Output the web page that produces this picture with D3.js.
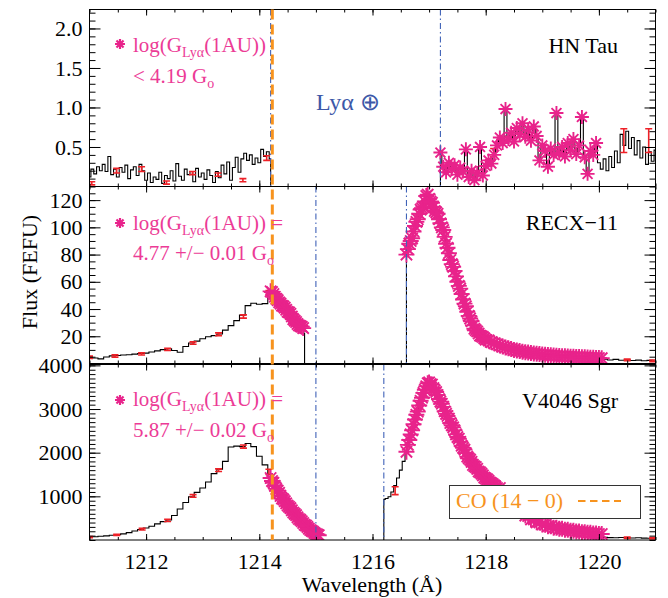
<!DOCTYPE html>
<html>
<head>
<meta charset="utf-8">
<title>Ly-alpha profiles</title>
<script src="https://cdn.jsdelivr.net/npm/d3@7"></script>
<style>
  body { margin: 0; background: #ffffff; }
  #chart text { font-family: "Liberation Serif", "Times New Roman", Times, serif; }
</style>
</head>
<body>
<svg id="chart"></svg>
<script>
// ---------------- data ----------------

// shared wavelength axis (Angstrom)
const xDomain = [1211, 1221];
const xLabelTicks = [1212, 1214, 1216, 1218, 1220];
const coWavelength = 1214.23;          // CO (14-0) band, orange dashed
const denseStep = 0.025;               // bins on the steep fitted parts
const fineStep = 0.05;                 // bins of the flatter fitted parts
const coarseStep = 0.1;                // bins used for the smooth wings

// ---- HN Tau (flux in FEFU) ----
const hnTauBlueStart = 1211.0;
const hnTauBlueFlux = [
  0.12,0.22,0.16,0.25,0.20,0.28,0.19,0.38,0.15,0.22,
  0.12,0.24,0.18,0.27,0.10,0.21,0.25,0.14,0.28,0.20,
  0.08,0.17,0.05,0.12,0.09,0.18,0.04,0.14,0.10,0.20,
  0.07,0.29,0.13,0.08,0.22,0.15,0.19,0.06,0.23,0.12,
  0.17,0.09,0.21,0.14,0.05,0.19,0.11,0.27,0.16,0.31,
  0.08,0.24,0.37,0.18,0.35,0.42,0.33,0.40,0.28,0.36,
  0.30,0.47,0.38,0.44,0.35];
const hnTauFitStart = 1217.2;
const hnTauFitFlux = [
  0.43,0.25,0.18,0.30,0.22,0.27,0.15,0.24,0.19,0.47,
  0.12,0.20,0.08,0.17,0.50,0.14,0.26,0.33,0.29,0.40,
  0.52,0.62,0.55,0.98,0.60,0.68,0.57,0.74,0.66,0.80,
  0.63,0.72,0.58,0.76,0.64,0.33,0.52,0.45,0.25,0.48,
  0.40,0.93,0.42,0.50,0.38,0.55,0.46,0.60,0.41,0.52,
  0.88,0.37,0.16,0.45,0.40,0.55];
const hnTauTailStart = 1220.0;
const hnTauTailFlux = [
  0.30,0.22,0.35,0.20,0.38,0.24,0.45,0.30,0.66,0.52,
  0.70,0.48,0.62,0.40,0.58,0.36,0.50,0.28,0.44,0.32,0.46];
// [wavelength, flux, error]
const hnTauErrors = [
  [1211.04,0.04,0.02],[1211.48,0.20,0.03],[1211.92,0.22,0.03],[1212.36,0.05,0.02],
  [1212.82,0.17,0.02],[1213.27,0.15,0.02],[1213.71,0.08,0.02],[1214.13,0.36,0.03],
  [1218.14,0.43,0.05],[1220.44,0.58,0.15],[1220.88,0.58,0.15]];
const hnTauGeocoronal = [1214.2, 1217.2];

// ---- RECX-11 ----
const recxWingStart = 1211.0;
const recxWingFlux = [
  4.6,4.0,3.4,4.8,5.6,5.9,6.2,6.4,6.9,7.3,
  7.6,8.4,9.3,10.2,10.8,9.5,8.3,12.5,15.1,16.4,
  18.2,19.6,20.5,21.7,24.5,27.8,31.5,35.5,42.5,44.2,
  43.5,44.0];
const recxBlueFitStart = 1214.2;
const recxBlueFitFlux = [
  53,52.5,51,49,47.5,46.5,45,44,42.5,42,41,39.5,
  38,37.5,36.5,34.5,32.5,31.5,30.5,29,28,27.5,27,26];
const recxBlueEdgeStart = 1214.8;
const recxBlueEdgeFlux = [22];
const recxPeakStart = 1216.6;
const recxPeakFlux = [
  80,84,88,90,92,97,101,104,106,110,
  113,114,115,119,123,124,121,119,118,115,
  112,111,110,106,103,100,98,93,88,85,
  81,76,73,71,68,64,60,57,55,51,
  47,44,42,38,35,33,31,28,25.5,24.5,
  23.5,22,20.5,20,19.5,18.5];
const recxWingRedStart = 1218.0;
const recxWingRedFlux = [
  17.5,17,15.7,14.8,14,13.2,12.4,11.8,11.2,10.6,
  10,9.5,9.1,8.7,8.3,8,7.7,7.4,7.1,6.9,
  6.6,6.4,6.2,6,5.8,5.7,5.5,5.4,5.3,5.1,
  5,4.9,4.8,4.7,4.6,4.5,4.4,4.3,4.2,4.1,
  4,3.9];
const recxTailStart = 1220.1;
const recxTailFlux = [3.2,2.6,3.0,2.4,2.8,2.2,2.5,2.0,2.3,1.8];
const recxErrors = [
  [1211.0,4.6,0.8],[1211.45,5.5,0.8],[1211.92,7,0.8],[1212.38,10.3,0.8],
  [1212.83,15,0.9],[1213.28,21.5,1],[1213.72,34.5,1.2],[1214.17,52,1.5],
  [1220.5,2.6,0.6],[1220.95,2.0,0.6]];
const recxGeocoronal = [1215.0, 1216.6];

// ---- V4046 Sgr ----
const v4046WingStart = 1211.0;
const v4046WingFlux = [
  65,75,85,95,108,120,140,170,205,240,
  275,315,370,420,460,560,710,860,990,1090,
  1190,1330,1520,1620,1800,2130,2150,2140,2210,2140,
  1920,1720];
const v4046BlueFitStart = 1214.2;
const v4046BlueFitFlux = [
  1420,1350,1310,1240,1170,1130,1080,1010,950,930,
  890,840,790,760,730,680,630,600,570,520,
  480,460,430,390,350,330,300,260,230,210,
  190,160,140,125,110];
const v4046RiseStart = 1216.2;
const v4046RiseFlux = [930,950,990,1100,1250,1420,1600,1800];
const v4046PeakStart = 1216.6;
const v4046PeakFlux = [
  2020,2180,2290,2420,2510,2650,2760,2870,2940,3080,
  3190,3260,3370,3440,3520,3590,3610,3570,3560,3480,
  3430,3390,3320,3230,3170,3120,3050,2950,2890,2840,
  2780,2680,2630,2580,2510,2420,2360,2320,2250,2160,
  2110,2070,1990,1910,1870,1840,1790,1720,1690,1670,
  1630,1570,1550,1520,1480,1430,1410,1390,1360,1320,
  1300,1280,1250,1220];
const v4046WingRedStart = 1218.2;
const v4046WingRedFlux = [
  1190,1190,1070,1060,930,920,800,770,
  670,650,560,550,470,470,405,400,355,350,
  315,315,282,282,255,255,234,234,214,214,
  195,196,180,180,164,164,150,150,136,136];
const v4046TailStart = 1220.1;
const v4046TailFlux = [60,55,50,58,48,45,52,42,40,38];
const v4046Errors = [
  [1211.0,65,15],[1211.48,118,15],[1211.93,250,20],[1212.38,450,25],
  [1212.83,1010,30],[1213.28,1600,30],[1213.72,2140,35],[1214.17,1560,60],
  [1216.4,1130,90],[1220.5,50,15],[1220.95,40,15]];
const v4046Geocoronal = [1215.0, 1216.2];

// y axes
const hnTauYTicks = [0.5, 1.0, 1.5, 2.0];
const recxYTicks = [20, 40, 60, 80, 100, 120];
const v4046YTicks = [1000, 2000, 3000, 4000];

// -------------------------------------------------------------------

const PINK = '#e8238b', PINK_TEXT = '#ec3b96', ORANGE = '#f7931e', BLUE = '#4063b8';

function toPoints(start, step, flux, star) {
  return flux.map((f, i) => ({w: start + i * step, f: f, star: star}));
}

// IDL style asterisk (psym=2)
function asteriskPath(r) {
  const k = r * 0.7071;
  return `M${-r},0L${r},0M0,${-r}L0,${r}M${-k},${-k}L${k},${k}M${-k},${k}L${k},${-k}`;
}

class SpectraFigure {

  constructor(_config, _panels) {
    this.config = {
      parentElement: _config.parentElement,
      width: 668,
      height: 598,
      left: 89.5,
      right: 655.5,
      panelTops: [9.5, 186.5, 364.5],
      panelHeights: [177, 177, 175.5]
    }
    this.panels = _panels;
    this.initVis();
  }

  initVis() {
    let vis = this;
    vis.svg = d3.select(vis.config.parentElement)
      .attr('width', vis.config.width)
      .attr('height', vis.config.height);

    vis.innerWidth = vis.config.right - vis.config.left;
    vis.xScale = d3.scaleLinear().domain(xDomain).range([0, vis.innerWidth]);

    vis.renderVis();
  }

  renderVis() {
    let vis = this;
    const x = vis.xScale;

    vis.panels.forEach((p, i) => {
      const top = vis.config.panelTops[i], h = vis.config.panelHeights[i];
      const g = vis.svg.append('g').attr('transform', `translate(${vis.config.left},${top})`);
      const y = d3.scaleLinear().domain([0, p.yMax]).range([h, 0]);
      p.yScale = y;

      //clip marks at the frame, like the IDL plot window
      g.append('clipPath').attr('id', 'clip' + i)
        .append('rect').attr('width', vis.innerWidth).attr('height', h);
      const plot = g.append('g').attr('clip-path', `url(#clip${i})`);

      const line = d3.line()
        .x(d => x(d.w))
        .y(d => y(d.f))
        .curve(d3.curveStep);

      let stars = [];
      p.runs.forEach(run => {
        let pts = [];
        run.segs.forEach(s => { pts = pts.concat(toPoints(s[0], s[1], s[2], s[3])); });
        const path = pts.slice();
        if (run.dropStart) path.unshift({w: pts[0].w, f: 0});
        if (run.dropEnd) path.push({w: pts[pts.length - 1].w, f: 0});
        plot.append('path')
          .datum(path)
          .attr('d', line)
          .attr('fill', 'none')
          .attr('stroke', '#000')
          .attr('stroke-width', 1.1);
        stars = stars.concat(pts.filter(d => d.star));
      });

      // error bars
      const eb = plot.selectAll('.err').data(p.errors).join('g').attr('class', 'err')
        .attr('stroke', '#ee2027').attr('stroke-width', 1.6);
      eb.append('line')
        .attr('x1', d => x(d[0])).attr('x2', d => x(d[0]))
        .attr('y1', d => y(d[1] - d[2])).attr('y2', d => y(d[1] + d[2]));
      eb.append('line')
        .attr('x1', d => x(d[0]) - 3.5).attr('x2', d => x(d[0]) + 3.5)
        .attr('y1', d => y(d[1] - d[2])).attr('y2', d => y(d[1] - d[2]));
      eb.append('line')
        .attr('x1', d => x(d[0]) - 3.5).attr('x2', d => x(d[0]) + 3.5)
        .attr('y1', d => y(d[1] + d[2])).attr('y2', d => y(d[1] + d[2]));

      // fitted points
      plot.selectAll('.star').data(stars).join('path')
        .attr('class', 'star')
        .attr('transform', d => `translate(${x(d.w)},${y(d.f)})`)
        .attr('d', asteriskPath(p.starSize))
        .attr('fill', 'none')
        .attr('stroke', PINK)
        .attr('stroke-width', 1.9);

      // geocoronal Ly-alpha edges
      g.selectAll('.geo').data(p.geo).join('line')
        .attr('class', 'geo')
        .attr('x1', d => x(d)).attr('x2', d => x(d))
        .attr('y1', 0).attr('y2', h)
        .attr('stroke', BLUE)
        .attr('stroke-width', 1.1)
        .attr('stroke-dasharray', '6,3,1.5,3');

      p.group = g;
      p.h = h;
    });

    // CO (14-0) line through all three panels
    const yTop = vis.config.panelTops[0];
    const yBot = vis.config.panelTops[2] + vis.config.panelHeights[2];
    vis.svg.append('line')
      .attr('x1', vis.config.left + x(coWavelength)).attr('x2', vis.config.left + x(coWavelength))
      .attr('y1', yTop).attr('y2', yBot)
      .attr('stroke', ORANGE)
      .attr('stroke-width', 3)
      .attr('stroke-dasharray', '10,5');

    // frames, axes and labels
    vis.panels.forEach((p, i) => {
      const g = p.group, h = p.h, y = p.yScale;
      const last = i === vis.panels.length - 1;
      const xMinor = d3.range(xDomain[0], xDomain[1] + 0.01, 0.5);
      const yMinor = d3.range(0, p.yMax, p.yMinorStep);

      const axes = [
        [d3.axisBottom(x).tickValues(xMinor).tickSize(-3).tickFormat(''), `translate(0,${h})`],
        [d3.axisBottom(x).tickValues(xLabelTicks).tickSize(-6).tickPadding(13)
          .tickFormat(last ? d3.format('d') : ''), `translate(0,${h})`],
        [d3.axisTop(x).tickValues(xMinor).tickSize(-3).tickFormat(''), 'translate(0,0)'],
        [d3.axisTop(x).tickValues(xLabelTicks).tickSize(-6).tickFormat(''), 'translate(0,0)'],
        [d3.axisLeft(y).tickValues(yMinor).tickSize(-6).tickFormat(''), 'translate(0,0)'],
        [d3.axisLeft(y).tickValues(p.yTicks).tickSize(-11).tickPadding(7).tickFormat(p.yFormat), 'translate(0,0)'],
        [d3.axisRight(y).tickValues(yMinor).tickSize(-6).tickFormat(''), `translate(${vis.innerWidth},0)`],
        [d3.axisRight(y).tickValues(p.yTicks).tickSize(-11).tickFormat(''), `translate(${vis.innerWidth},0)`]
      ];
      axes.forEach(a => {
        const ag = g.append('g').attr('transform', a[1]).call(a[0].tickSizeOuter(0));
        ag.select('.domain').remove();
        ag.attr('font-size', 22).attr('font-family', null);
        ag.selectAll('text').attr('fill', '#000');
        ag.selectAll('line').attr('stroke', '#000');
      });

      g.append('rect')
        .attr('width', vis.innerWidth).attr('height', h)
        .attr('fill', 'none').attr('stroke', '#000').attr('stroke-width', 1);

      // object name
      vis.svg.append('text')
        .attr('x', 618).attr('y', p.nameY)
        .attr('text-anchor', 'end')
        .attr('font-size', 22)
        .text(p.name);

      // G_Lya(1AU) annotation
      vis.svg.append('path')
        .attr('transform', `translate(120,${p.note.starY})`)
        .attr('d', asteriskPath(5))
        .attr('fill', 'none').attr('stroke', PINK).attr('stroke-width', 2.2);
      const t1 = vis.svg.append('text')
        .attr('x', 133).attr('y', p.note.y1)
        .attr('font-size', 21).attr('fill', PINK_TEXT)
        .text('log(G');
      t1.append('tspan').attr('font-size', 14).attr('dy', 5).text('Lyα');
      t1.append('tspan').attr('dy', -5).text('(1AU))' + p.note.eq);
      const t2 = vis.svg.append('text')
        .attr('x', 133).attr('y', p.note.y2)
        .attr('font-size', 21).attr('fill', PINK_TEXT)
        .text(p.note.value + ' G');
      t2.append('tspan').attr('font-size', 14).attr('dy', 5).text('o');
    });

    // geocoronal label
    vis.svg.append('text')
      .attr('x', 316).attr('y', 110)
      .attr('font-size', 24)
      .attr('fill', '#3d58a8')
      .text('Lyα ⊕');

    // legend for the CO line
    vis.svg.append('rect')
      .attr('x', 449.5).attr('y', 485.5).attr('width', 191).attr('height', 33)
      .attr('fill', '#fff').attr('stroke', '#333').attr('stroke-width', 1);
    vis.svg.append('text')
      .attr('x', 456).attr('y', 508)
      .attr('font-size', 22).attr('fill', ORANGE)
      .text('CO (14 − 0)');
    vis.svg.append('line')
      .attr('x1', 578).attr('x2', 621).attr('y1', 501).attr('y2', 501)
      .attr('stroke', ORANGE).attr('stroke-width', 1.8)
      .attr('stroke-dasharray', '7.5,4.5');

    // axis titles
    vis.svg.append('text')
      .attr('x', 372).attr('y', 592)
      .attr('text-anchor', 'middle')
      .attr('font-size', 22)
      .text('Wavelength (Å)');
    vis.svg.append('text')
      .attr('transform', 'translate(37,272) rotate(-90)')
      .attr('text-anchor', 'middle')
      .attr('font-size', 22)
      .text('Flux (FEFU)');
  }
}

const panels = [
  {
    name: 'HN Tau', nameY: 53, starSize: 7,
    yMax: 2.24, yTicks: hnTauYTicks, yMinorStep: 0.1, yFormat: d3.format('.1f'),
    runs: [
      {segs: [[hnTauBlueStart, fineStep, hnTauBlueFlux, false]], dropEnd: true},
      {segs: [[hnTauFitStart, fineStep, hnTauFitFlux, true],
              [hnTauTailStart, fineStep, hnTauTailFlux, false]], dropStart: true}
    ],
    errors: hnTauErrors, geo: hnTauGeocoronal,
    note: {starY: 44, y1: 52, y2: 83, eq: '', value: '< 4.19'}
  },
  {
    name: 'RECX−11', nameY: 230, starSize: 8,
    yMax: 130, yTicks: recxYTicks, yMinorStep: 5, yFormat: d3.format('d'),
    runs: [
      {segs: [[recxWingStart, coarseStep, recxWingFlux, false],
              [recxBlueFitStart, denseStep, recxBlueFitFlux, true],
              [recxBlueEdgeStart, fineStep, recxBlueEdgeFlux, false]], dropEnd: true},
      {segs: [[recxPeakStart, denseStep, recxPeakFlux, true],
              [recxWingRedStart, fineStep, recxWingRedFlux, true],
              [recxTailStart, coarseStep, recxTailFlux, false]], dropStart: true}
    ],
    errors: recxErrors, geo: recxGeocoronal,
    note: {starY: 223, y1: 230, y2: 260, eq: ' =', value: '4.77 +/− 0.01'}
  },
  {
    name: 'V4046 Sgr', nameY: 408, starSize: 8,
    yMax: 4020, yTicks: v4046YTicks, yMinorStep: 100, yFormat: d3.format('d'),
    runs: [
      {segs: [[v4046WingStart, coarseStep, v4046WingFlux, false],
              [v4046BlueFitStart, denseStep, v4046BlueFitFlux, true]], dropEnd: true},
      {segs: [[v4046RiseStart, fineStep, v4046RiseFlux, false],
              [v4046PeakStart, denseStep, v4046PeakFlux, true],
              [v4046WingRedStart, fineStep, v4046WingRedFlux, true],
              [v4046TailStart, coarseStep, v4046TailFlux, false]], dropStart: true}
    ],
    errors: v4046Errors, geo: v4046Geocoronal,
    note: {starY: 400, y1: 406, y2: 437, eq: ' =', value: '5.87 +/− 0.02'}
  }
];

new SpectraFigure({parentElement: '#chart'}, panels);
</script>
</body>
</html>
